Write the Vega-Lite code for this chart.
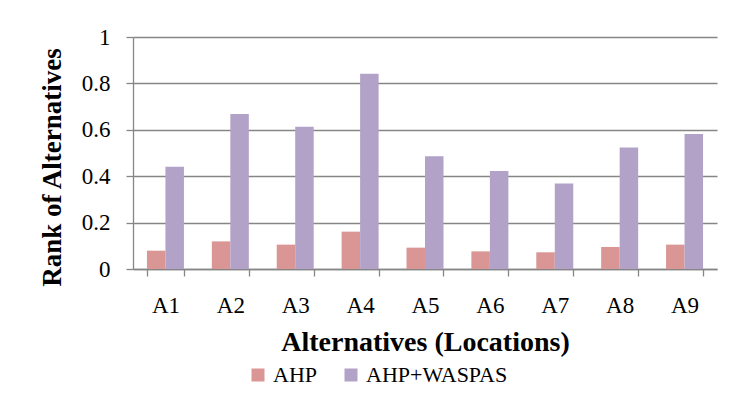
{
  "$schema": "https://vega.github.io/schema/vega-lite/v6.json",
  "width": 584,
  "height": 232,
  "autosize": {"type": "none"},
  "padding": {"left": 133, "top": 37, "right": 17, "bottom": 131},
  "background": "white",
  "config": {
    "view": {"stroke": null},
    "font": "Liberation Serif",
    "text": {"font": "Liberation Serif"},
    "axis": {
      "domainColor": "#868686",
      "tickColor": "#868686",
      "gridColor": "#868686",
      "domainWidth": 1.3,
      "tickWidth": 1.3,
      "gridWidth": 1.3,
      "labelColor": "black",
      "titleColor": "black",
      "labelFont": "Liberation Serif",
      "titleFont": "Liberation Serif"
    },
    "legend": {"labelFont": "Liberation Serif"}
  },
  "data": {
    "values": [
      {"alt": "A1", "series": "AHP", "value": 0.079},
      {"alt": "A1", "series": "AHP+WASPAS", "value": 0.441},
      {"alt": "A2", "series": "AHP", "value": 0.119},
      {"alt": "A2", "series": "AHP+WASPAS", "value": 0.668},
      {"alt": "A3", "series": "AHP", "value": 0.105},
      {"alt": "A3", "series": "AHP+WASPAS", "value": 0.613},
      {"alt": "A4", "series": "AHP", "value": 0.161},
      {"alt": "A4", "series": "AHP+WASPAS", "value": 0.842},
      {"alt": "A5", "series": "AHP", "value": 0.092},
      {"alt": "A5", "series": "AHP+WASPAS", "value": 0.486},
      {"alt": "A6", "series": "AHP", "value": 0.076},
      {"alt": "A6", "series": "AHP+WASPAS", "value": 0.422},
      {"alt": "A7", "series": "AHP", "value": 0.072},
      {"alt": "A7", "series": "AHP+WASPAS", "value": 0.368},
      {"alt": "A8", "series": "AHP", "value": 0.095},
      {"alt": "A8", "series": "AHP+WASPAS", "value": 0.524},
      {"alt": "A9", "series": "AHP", "value": 0.105},
      {"alt": "A9", "series": "AHP+WASPAS", "value": 0.582}
    ]
  },
  "mark": {"type": "bar"},
  "encoding": {
    "x": {
      "field": "alt",
      "type": "nominal",
      "scale": {"paddingInner": 0.43, "paddingOuter": 0.215},
      "axis": {
        "title": "Alternatives (Locations)",
        "labelAngle": 0,
        "tickBand": "extent",
        "tickSize": 7,
        "labelPadding": 18,
        "labelFont": "Liberation Serif",
        "labelFontSize": 23,
        "titleFont": "Liberation Serif",
        "titleFontSize": 28,
        "titleFontWeight": "bold",
        "titlePadding": 11
      }
    },
    "xOffset": {"field": "series", "sort": ["AHP", "AHP+WASPAS"]},
    "y": {
      "field": "value",
      "type": "quantitative",
      "scale": {"domain": [0, 1]},
      "axis": {
        "title": "Rank of Alternatives",
        "values": [0, 0.2, 0.4, 0.6, 0.8, 1],
        "format": "~g",
        "tickSize": 7,
        "labelPadding": 16,
        "labelFont": "Liberation Serif",
        "labelFontSize": 23,
        "titleFont": "Liberation Serif",
        "titleFontSize": 27,
        "titleFontWeight": "bold",
        "titlePadding": 15,
        "titleY": 130
      }
    },
    "color": {
      "field": "series",
      "type": "nominal",
      "sort": ["AHP", "AHP+WASPAS"],
      "scale": {"domain": ["AHP", "AHP+WASPAS"], "range": ["#D99694", "#B3A2C7"]},
      "legend": {
        "title": null,
        "orient": "none",
        "direction": "horizontal",
        "legendX": 114,
        "legendY": 327,
        "symbolType": "square",
        "symbolSize": 169,
        "symbolStrokeWidth": 0,
        "labelFontSize": 22,
        "labelFont": "Liberation Serif",
        "labelColor": "black",
        "labelOffset": 4,
        "columnPadding": 22,
        "padding": 0
      }
    }
  }
}
